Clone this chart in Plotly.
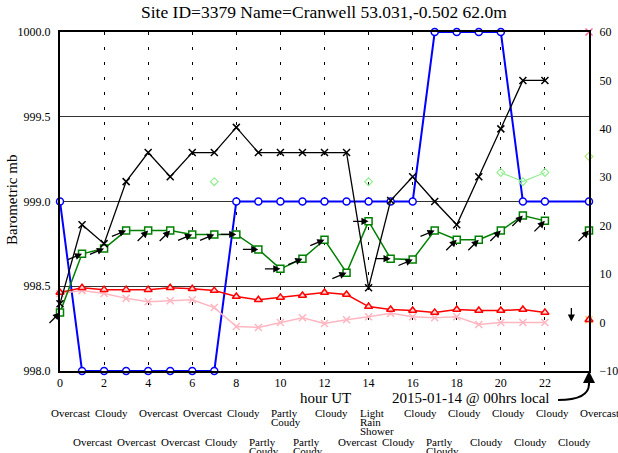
import math
import plotly.graph_objects as go

# hourly observations, hours 0..22 UT
hours = list(range(23))
pressure = [999, 998, 998, 998, 998, 998, 998, 998, 999, 999, 999, 999,
            999, 999, 999, 999, 999, 1000, 1000, 1000, 1000, 999, 999]
black_series = [3.9, 20.2, 16.3, 29.1, 35.1, 30.1, 35.1, 35.1, 40.3, 35.1, 35.1, 35.1,
                35.1, 35.1, 7.2, 25.2, 30.1, 25.0, 20.2, 30.1, 40.0, 50.0, 50.0]
wind_speed = [2.1, 14.2, 15.3, 19.0, 19.0, 19.0, 18.2, 18.2, 18.2, 15.1, 11.1, 13.2,
              17.1, 10.3, 20.9, 13.2, 13.0, 19.0, 17.1, 17.1, 19.0, 22.1, 21.0]
wind_dir = [225, 247.5, 247.5, 247.5, 225, 225, 247.5, 247.5, 270, 270, 270, 247.5,
            247.5, 247.5, 270, 270, 247.5, 247.5, 225, 225, 225, 225, 225]
gust = [None, None, None, None, None, None, None, 29.1, None, None, None, None,
        None, None, 29.1, None, None, None, None, None, 31.0, 29.1, 31.0]
temperature = [6.2, 7.2, 6.8, 6.8, 6.8, 7.2, 7.0, 6.6, 5.4, 4.7, 5.2, 5.6,
               6.2, 5.8, 3.3, 2.7, 2.5, 2.1, 2.7, 2.5, 2.5, 2.7, 2.1]
dew_point = [6.0, 6.6, 6.0, 5.0, 4.3, 4.5, 4.7, 3.1, -0.8, -1.0, 0.0, 1.0,
             -0.2, 0.6, 1.2, 1.9, 1.2, 1.0, 1.2, -0.4, 0.0, 0.0, 0.0]

# "now" values plotted at hour 24
now_hour = 24
now_pressure = 999
now_black = 60
now_wind = 19.0
now_dir = 225
now_gust = 34.3
now_temp = 0.6
now_dew = 0.6
tendency_hour = 23.2

weather_even_hours = list(range(0, 25, 2))
weather_even = ["Overcast", "Cloudy", "Overcast", "Overcast", "Cloudy", "Partly\nCoudy",
                "Cloudy", "Light\nRain\nShower", "Cloudy", "Cloudy", "Cloudy", "Cloudy", "Overcast"]
weather_odd_hours = list(range(1, 24, 2))
weather_odd = ["Overcast", "Overcast", "Overcast", "Cloudy", "Partly\nCoudy", "Partly\nCoudy",
               "Overcast", "Cloudy", "Partly\nCloudy", "Cloudy", "Cloudy", "Cloudy"]

FONT = "Liberation Serif"
W, H = 618, 453
L, R, T, B = 60, 589, 32, 371   # plot area in pixels
X0, X1 = 0, 24


def px(x, y):
    return (x - L) / (R - L), (B - y) / (B - T)


fig = go.Figure()

fig.add_trace(go.Scatter(x=hours, y=dew_point, yaxis="y2", mode="lines+markers",
                         line=dict(color="#ffb6c1", width=1.5),
                         marker=dict(symbol="x-thin-open", size=7, line=dict(color="#ffb6c1", width=1.5)),
                         cliponaxis=False))
fig.add_trace(go.Scatter(x=hours, y=temperature, yaxis="y2", mode="lines+markers",
                         line=dict(color="red", width=1.5),
                         marker=dict(symbol="triangle-up", size=7, color="#ffdddd",
                                     line=dict(color="red", width=1.5)),
                         cliponaxis=False))
fig.add_trace(go.Scatter(x=hours, y=gust, yaxis="y2", mode="lines+markers",
                         line=dict(color="#90ee90", width=1.2),
                         marker=dict(symbol="diamond-open", size=6, line=dict(color="#90ee90", width=1.2)),
                         connectgaps=False, cliponaxis=False))
fig.add_trace(go.Scatter(x=hours, y=wind_speed, yaxis="y2", mode="lines+markers",
                         line=dict(color="green", width=1.5),
                         marker=dict(symbol="square", size=7, color="white",
                                     line=dict(color="green", width=1.5)),
                         cliponaxis=False))
fig.add_trace(go.Scatter(x=hours, y=black_series, yaxis="y2", mode="lines+markers",
                         line=dict(color="black", width=1.3),
                         marker=dict(symbol="x-thin-open", size=7, line=dict(color="black", width=1.5)),
                         cliponaxis=False))
fig.add_trace(go.Scatter(x=hours + [now_hour], y=pressure + [now_pressure], mode="lines+markers",
                         line=dict(color="blue", width=2),
                         marker=dict(symbol="circle", size=7, color="white",
                                     line=dict(color="blue", width=1.5)),
                         cliponaxis=False))

# current values at hour 24
fig.add_trace(go.Scatter(x=[now_hour], y=[now_black], yaxis="y2", mode="markers",
                         marker=dict(symbol="x-thin-open", size=7, line=dict(color="black", width=1.5)),
                         cliponaxis=False))
fig.add_trace(go.Scatter(x=[now_hour], y=[now_gust], yaxis="y2", mode="markers",
                         marker=dict(symbol="diamond-open", size=6, line=dict(color="#90ee90", width=1.2)),
                         cliponaxis=False))
fig.add_trace(go.Scatter(x=[now_hour], y=[now_wind], yaxis="y2", mode="markers",
                         marker=dict(symbol="square", size=7, color="white",
                                     line=dict(color="green", width=1.5)),
                         cliponaxis=False))
fig.add_trace(go.Scatter(x=[now_hour], y=[now_dew], yaxis="y2", mode="markers",
                         marker=dict(symbol="x-thin-open", size=7, line=dict(color="#ffb6c1", width=1.5)),
                         cliponaxis=False))
fig.add_trace(go.Scatter(x=[now_hour], y=[now_temp], yaxis="y2", mode="markers",
                         marker=dict(symbol="triangle-up", size=7, color="#ffdddd",
                                     line=dict(color="red", width=1.5)),
                         cliponaxis=False))

ann = []
# wind direction arrows
ARROW = 17
for h, s, d in zip(hours + [now_hour], wind_speed + [now_wind], wind_dir + [now_dir]):
    r = math.radians(d)
    ann.append(dict(x=h, y=s, xref="x", yref="y2", text="", showarrow=True,
                    ax=ARROW * math.sin(r), ay=-ARROW * math.cos(r),
                    arrowhead=2, arrowsize=1.1, arrowwidth=1.3, arrowcolor="black"))
# pressure tendency arrow
ann.append(dict(x=tendency_hour, y=0.2, xref="x", yref="y2", text="", showarrow=True,
                ax=0, ay=-15, arrowhead=2, arrowsize=1.1, arrowwidth=1.3, arrowcolor="black"))
# local midnight marker arrow
ann.append(dict(x=24, y=-10, xref="x", yref="y2", text="", showarrow=True,
                ax=0, ay=16, arrowhead=2, arrowsize=1.2, arrowwidth=2, arrowcolor="black"))

# texts
tx, ty = px(325, 398)
ann.append(dict(x=tx, y=ty, xref="paper", yref="paper", text="hour UT", showarrow=False,
                font=dict(size=15), xanchor="center", yanchor="middle"))
tx, ty = px(471, 398)
ann.append(dict(x=tx, y=ty, xref="paper", yref="paper", text="2015-01-14 @ 00hrs local",
                showarrow=False, font=dict(size=15), xanchor="center", yanchor="middle"))
tx, ty = px(12, 200)
ann.append(dict(x=tx, y=ty, xref="paper", yref="paper", text="Barometric mb", textangle=-90,
                showarrow=False, font=dict(size=15), xanchor="center", yanchor="middle"))
tx, ty = px(324, 12)
ann.append(dict(x=tx, y=ty, xref="paper", yref="paper",
                text="Site ID=3379 Name=Cranwell 53.031,-0.502 62.0m",
                showarrow=False, font=dict(size=17.5), xanchor="center", yanchor="middle"))

# weather descriptions, two staggered rows under the axis
for hrs, labels, y0 in [(weather_even_hours, weather_even, 413), (weather_odd_hours, weather_odd, 442)]:
    for h, lab in zip(hrs, labels):
        for i, line in enumerate(lab.split("\n")):
            _, ly = px(0, y0 + 9 * i)
            ann.append(dict(x=(h - 0.5 - X0) / (X1 - X0), y=ly, xref="paper", yref="paper",
                            text=line, showarrow=False,
                            font=dict(size=11), xanchor="left", yanchor="middle"))

x1, y1 = px(558, 400)
x2, y2 = px(589, 400)
x3, y3 = px(589, 384)
shapes = [dict(type="path", xref="paper", yref="paper",
               path=f"M {x1},{y1} Q {x2},{y2} {x3},{y3}",
               line=dict(color="black", width=2))]

fig.update_layout(
    width=W, height=H,
    margin=dict(l=L, r=W - R, t=T, b=H - B, pad=0, autoexpand=False),
    paper_bgcolor="white", plot_bgcolor="white",
    showlegend=False,
    font=dict(family=FONT, size=12, color="black"),
    annotations=ann, shapes=shapes,
    xaxis=dict(range=[X0, X1], tickvals=list(range(0, 23, 2)), showgrid=True,
               gridcolor="black", gridwidth=1, griddash="3px,12px",
               showline=True, linecolor="black", linewidth=2, mirror=True,
               zeroline=False, ticks="", ticklabelstandoff=0, automargin=False),
    yaxis=dict(range=[998, 1000], tickvals=[998, 998.5, 999, 999.5, 1000],
               ticktext=["998.0", "998.5", "999.0", "999.5", "1000.0"],
               showgrid=True, gridcolor="#333333", gridwidth=1,
               showline=True, linecolor="black", linewidth=2, mirror=True,
               zeroline=False, ticks="", ticklabelstandoff=5, automargin=False),
    yaxis2=dict(range=[-10, 60], dtick=10, overlaying="y", side="right",
                showgrid=False, showline=True, linecolor="black", linewidth=2,
                zeroline=False, ticks="", ticklabelstandoff=6, automargin=False),
)

# drop the default 8px page margin so the figure sits at the window's corner
fig.write_html("out.html", config={"displayModeBar": False},
               post_script="document.body.style.margin='0px';")
